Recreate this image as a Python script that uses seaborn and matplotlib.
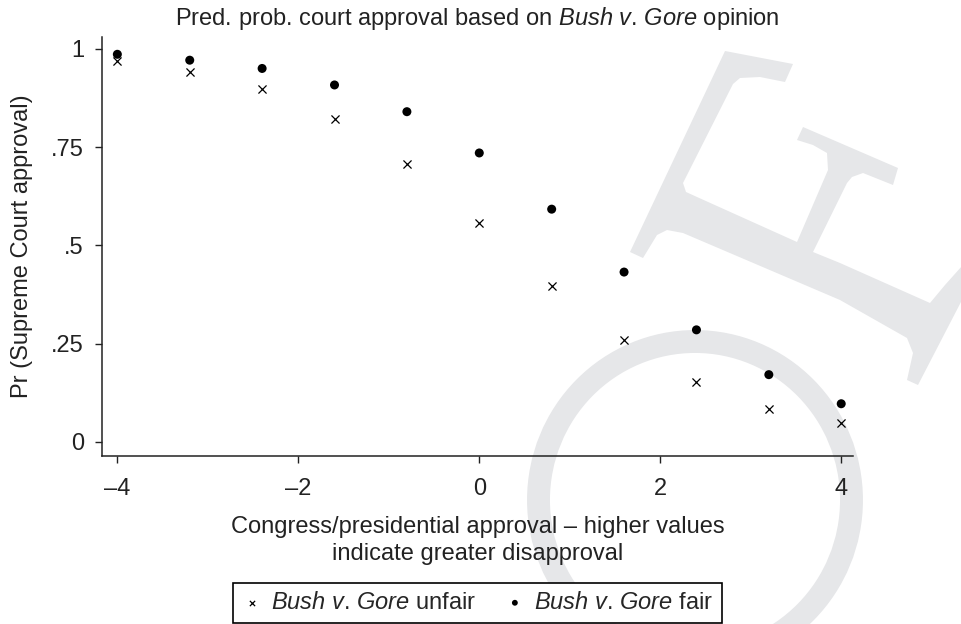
import matplotlib
matplotlib.use("Agg")
import matplotlib.pyplot as plt
from matplotlib.patches import Ellipse, Polygon
import seaborn as sns
import pandas as pd

# predicted probabilities
approval = [-4, -3.2, -2.4, -1.6, -0.8, 0, 0.8, 1.6, 2.4, 3.2, 4]
prob_unfair = [0.968, 0.942, 0.897, 0.822, 0.706, 0.558, 0.397, 0.258, 0.152, 0.084, 0.048]
prob_fair = [0.986, 0.971, 0.950, 0.908, 0.840, 0.735, 0.592, 0.432, 0.285, 0.171, 0.097]

y_ticks = [0, 0.25, 0.5, 0.75, 1]
y_tick_labels = ["0", ".25", ".5", ".75", "1"]
x_ticks = [-4, -2, 0, 2, 4]
x_tick_labels = ["\u20134", "\u20132", "0", "2", "4"]

bvg = r"$\it{Bush}$ $\it{v}$. $\it{Gore}$"
label_unfair = bvg + " unfair"
label_fair = bvg + " fair"

df_unfair = pd.DataFrame({"approval": approval, "prob": prob_unfair})
df_fair = pd.DataFrame({"approval": approval, "prob": prob_fair})

sns.set_style("ticks")
plt.rcParams["font.family"] = ["Liberation Sans", "DejaVu Sans"]
plt.rcParams["mathtext.fontset"] = "custom"
plt.rcParams["mathtext.rm"] = "Liberation Sans"
plt.rcParams["mathtext.it"] = "Liberation Sans:italic"
FS = 17
INK = "#222222"

fig = plt.figure(figsize=(9.61, 6.24), dpi=100)

# light grey watermark behind everything (pixel coords, y down)
bg = fig.add_axes([0, 0, 1, 1], zorder=0)
bg.set_xlim(0, 961)
bg.set_ylim(624, 0)
bg.axis("off")
wm = "#e6e7e9"
bg.add_patch(Ellipse((695, 500), 313, 317, fill=False, edgecolor=wm, linewidth=16.5))
e_outline = [(725, 51), (793, 64), (785, 82), (760, 77), (740, 78), (733, 84),
             (683, 183), (686, 192), (697, 197), (797, 242), (828, 170), (827, 153),
             (813, 145), (797, 140), (803, 127), (898, 168), (893, 185), (863, 173),
             (852, 177), (847, 183), (813, 252), (840, 263), (930, 303), (945, 285),
             (962, 266), (962, 300), (918, 385), (907, 380), (913, 353), (907, 338),
             (840, 300), (683, 233), (667, 230), (657, 235), (643, 258), (630, 252)]
bg.add_patch(Polygon(e_outline, closed=True, facecolor=wm, edgecolor="none"))

ax = fig.add_axes([0.1061, 0.2692, 0.7815, 0.6715], zorder=1)
ax.patch.set_alpha(0)

sns.scatterplot(data=df_unfair, x="approval", y="prob", marker="x", color="black",
                s=34, linewidth=0.9, ax=ax, label=label_unfair, legend=False)
sns.scatterplot(data=df_fair, x="approval", y="prob", marker="o", color="black",
                s=42, edgecolor="none", ax=ax, label=label_fair, legend=False)

ax.set_xlim(-4.17, 4.13)
ax.set_ylim(-0.036, 1.03)
ax.set_xticks(x_ticks)
ax.set_xticklabels(x_tick_labels)
ax.set_yticks(y_ticks)
ax.set_yticklabels(y_tick_labels)
ax.tick_params(axis="both", labelsize=FS, length=5, width=1, color=INK, labelcolor=INK)
ax.tick_params(axis="y", pad=8)
ax.tick_params(axis="x", pad=11)
sns.despine(ax=ax)
for sp in ["left", "bottom"]:
    ax.spines[sp].set_linewidth(1.1)
    ax.spines[sp].set_color(INK)

ax.set_xlabel("Congress/presidential approval \u2013 higher values\nindicate greater disapproval",
              fontsize=FS, color=INK, labelpad=11, linespacing=1.32)
ax.set_ylabel("Pr (Supreme Court approval)", fontsize=FS, color=INK, labelpad=13)

fig.text(0.4969, 1 - 18 / 624, "Pred. prob. court approval based on " + bvg + " opinion",
         ha="center", va="center", fontsize=FS, color=INK)

handles, labels = ax.get_legend_handles_labels()
leg = fig.legend(handles, labels, loc="center", bbox_to_anchor=(0.4969, 0.0337), ncol=2,
                 fontsize=FS, frameon=True, fancybox=False, edgecolor="black",
                 framealpha=1, markerscale=0.65, handlelength=0.85, handletextpad=0.4,
                 columnspacing=1.2, borderpad=0.38)
leg.get_frame().set_linewidth(1.2)
leg.set_zorder(5)

fig.savefig("out.png", dpi=100)
